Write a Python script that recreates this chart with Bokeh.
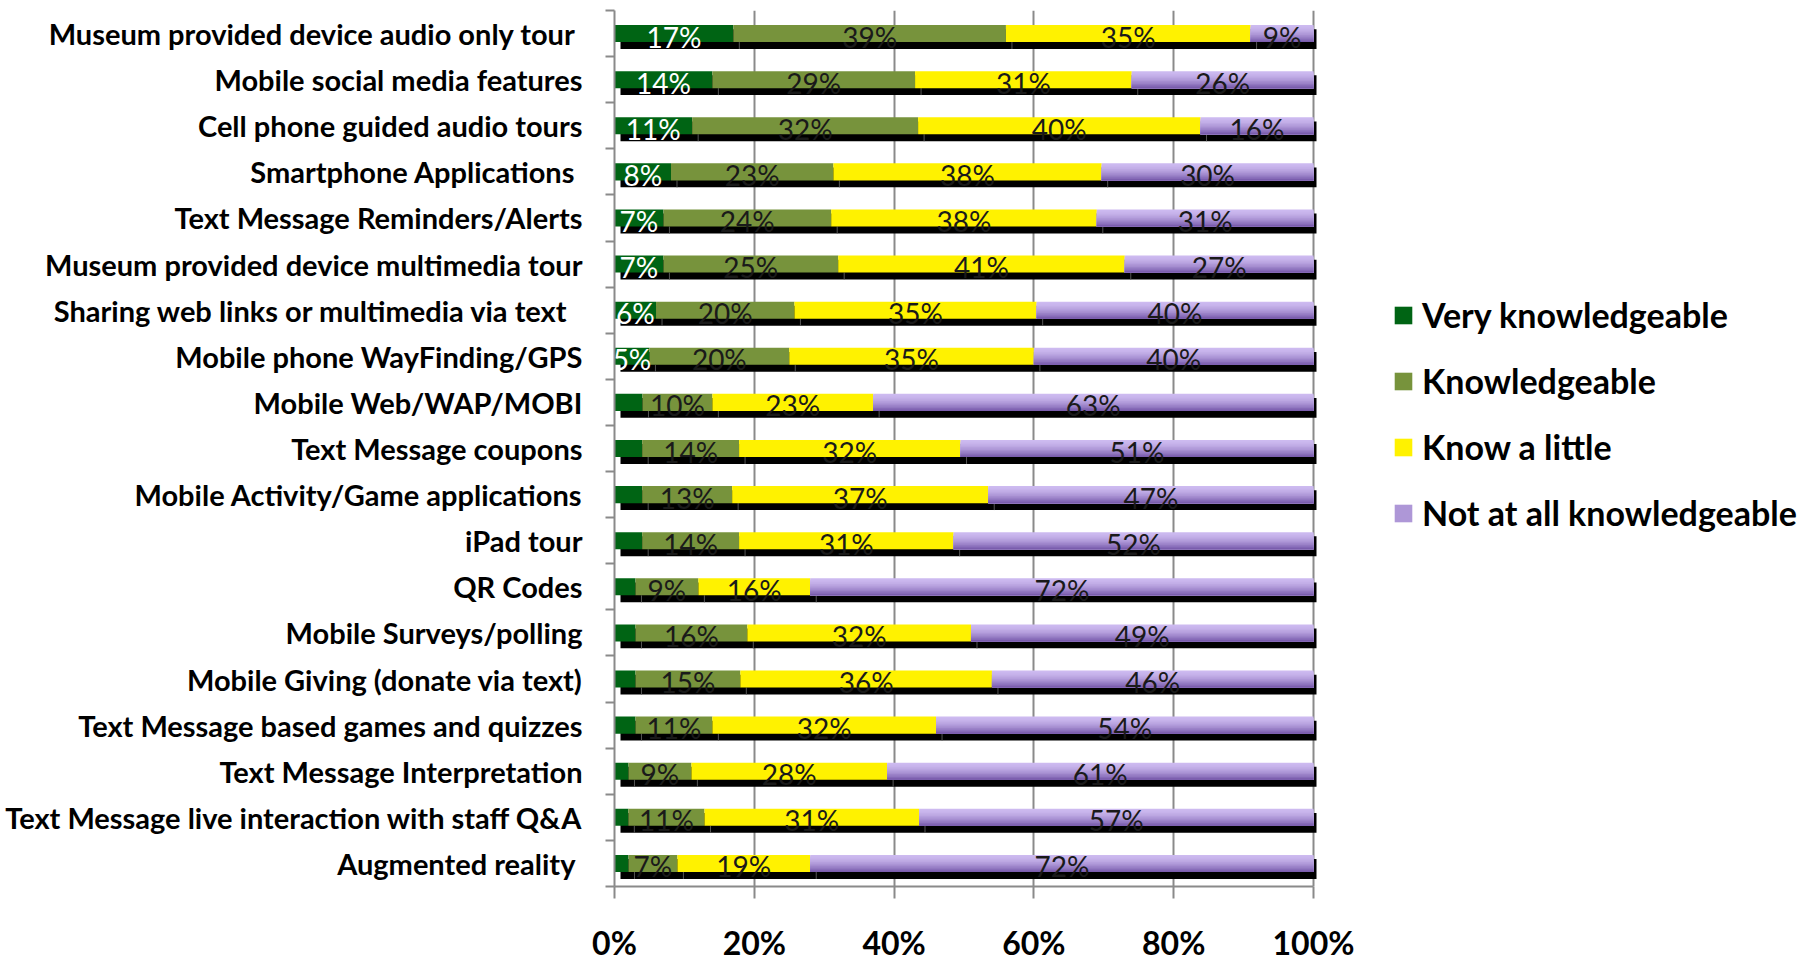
import numpy as np
from bokeh.plotting import figure
from bokeh.models import ColumnDataSource, Range1d, FixedTicker, Legend, LegendItem
from bokeh.embed import file_html
from bokeh.resources import INLINE
from bokeh.core.properties import value

# Survey: familiarity with mobile technologies (top row first)
categories = [
    "Museum provided device audio only tour ",
    "Mobile social media features",
    "Cell phone guided audio tours",
    "Smartphone Applications ",
    "Text Message Reminders/Alerts",
    "Museum provided device multimedia tour",
    "Sharing  web links or multimedia via text ",
    "Mobile phone WayFinding/GPS",
    "Mobile Web/WAP/MOBI",
    "Text Message coupons",
    "Mobile Activity/Game applications",
    "iPad tour",
    "QR Codes",
    "Mobile Surveys/polling",
    "Mobile Giving (donate via text)",
    "Text Message based games and quizzes",
    "Text Message Interpretation",
    "Text Message live interaction with staff Q&A",
    "Augmented reality ",
]
very_knowledgeable = [17, 14, 11, 8, 7, 7, 6, 5, 4, 4, 4, 4, 3, 3, 3, 3, 2, 2, 2]
knowledgeable = [39, 29, 32, 23, 24, 25, 20, 20, 10, 14, 13, 14, 9, 16, 15, 11, 9, 11, 7]
know_a_little = [35, 31, 40, 38, 38, 41, 35, 35, 23, 32, 37, 31, 16, 32, 36, 32, 28, 31, 19]
not_at_all = [9, 26, 16, 30, 31, 27, 40, 40, 63, 51, 47, 52, 72, 49, 46, 54, 61, 57, 72]
# only the first rows carry a label on the dark green segment
labelled_very_rows = 8

series_names = ["Very knowledgeable", "Knowledgeable", "Know a little", "Not at all knowledgeable"]
tick_values = [0, 20, 40, 60, 80, 100]
tick_labels = ["0%", "20%", "40%", "60%", "80%", "100%"]

FONT = "Lato"
GREEN = "#006414"
OLIVE = "#77933c"
YELLOW = "#fff200"
PURPLE_TOP = np.array([205, 186, 240])
PURPLE_BOTTOM = np.array([116, 86, 168])
AXIS_GRAY = "#8a8a8a"

n = len(categories)
rows = np.arange(n)
vals = np.array([very_knowledgeable, knowledgeable, know_a_little, not_at_all], dtype=float)
totals = vals.sum(axis=0)
shares = vals / totals * 100.0
right_edges = np.cumsum(shares, axis=0)
left_edges = right_edges - shares

# frame spans to the right edge so the legend can live inside it;
# 0% sits at 614 px and 100% at 1313 px
W, H = 1816, 964
FRAME_LEFT = 614
FRAME_TOP = 10
px_per_unit = 699 / 100.0
x_end = (W - FRAME_LEFT) / px_per_unit

p = figure(width=W, height=H, output_backend="svg", toolbar_location=None,
           x_range=Range1d(0, x_end), y_range=Range1d(n - 0.5, -0.5),
           min_border_left=FRAME_LEFT, min_border_right=0,
           min_border_top=FRAME_TOP, min_border_bottom=74)
p.outline_line_color = None
p.background_fill_color = "white"
p.border_fill_color = "white"

BAR_H = 0.37
SHADOW_H = 0.43
SHADOW_DY = 0.12
SHADOW_DX_L = 6 / px_per_unit
SHADOW_DX_R = 3 / px_per_unit

# depth face under each bar
p.hbar(y=rows + SHADOW_DY, left=SHADOW_DX_L, right=100 + SHADOW_DX_R, height=SHADOW_H,
       fill_color="black", line_color=None)
# segment seams on the depth face
for k in range(3):
    xs = right_edges[k] + SHADOW_DX_L
    p.segment(x0=xs, x1=xs, y0=rows + BAR_H / 2, y1=rows + SHADOW_DY + SHADOW_H / 2,
              line_color="#555555", line_width=1)

renderers = []
for k, color in enumerate([GREEN, OLIVE, YELLOW]):
    r = p.hbar(y=rows, left=left_edges[k], right=right_edges[k], height=BAR_H,
               fill_color=color, line_color=None)
    renderers.append(r)

# purple segment shaded from light top to darker bottom; each band runs down to the
# bar's lower edge so the next one simply paints over it (no seams)
n_bands = 12
band_h = BAR_H / n_bands
purple_bands = []
for b in range(n_bands):
    t = (b + 0.5) / n_bands
    c = PURPLE_TOP + (PURPLE_BOTTOM - PURPLE_TOP) * t ** 1.7
    col = "#%02x%02x%02x" % tuple(int(round(v)) for v in c)
    top = rows - BAR_H / 2 + band_h * b
    bottom = rows + BAR_H / 2
    r = p.hbar(y=(top + bottom) / 2, left=left_edges[3], right=right_edges[3],
               height=bottom - top, fill_color=col, line_color=None)
    purple_bands.append(r)
renderers.append(purple_bands[n_bands // 2])

# value labels
lab_x, lab_y, lab_t, lab_c = [], [], [], []
for k in range(4):
    for i in range(n):
        if k == 0 and i >= labelled_very_rows:
            continue
        lab_x.append((left_edges[k][i] + right_edges[k][i]) / 2)
        lab_y.append(i)
        lab_t.append("%d%%" % int(vals[k][i]))
        lab_c.append("white" if k == 0 else "#1a1a1a")
labels = ColumnDataSource(dict(x=lab_x, y=lab_y, t=lab_t, c=lab_c))
p.text(x="x", y="y", text="t", source=labels, text_color="c",
       text_font=value(FONT), text_font_size="28px",
       text_align="center", text_baseline="middle", y_offset=3)

# x axis, limited to the 0-100% span
xa = p.xaxis[0]
xa.ticker = FixedTicker(ticks=tick_values, minor_ticks=[])
xa.major_label_overrides = {v: s for v, s in zip(tick_values, tick_labels)}
xa.bounds = (0, 100)
xa.axis_line_color = AXIS_GRAY
xa.axis_line_width = 2
xa.major_tick_line_color = AXIS_GRAY
xa.major_tick_line_width = 2
xa.major_tick_out = 12
xa.major_tick_in = 0
xa.minor_tick_line_color = None
xa.major_label_text_font = FONT
xa.major_label_text_font_style = "bold"
xa.major_label_text_font_size = "32px"
xa.major_label_text_color = "black"
xa.major_label_standoff = 24

# y axis: labels at row centres, ticks between rows
ya = p.yaxis[0]
ya.ticker = FixedTicker(ticks=list(range(n)), minor_ticks=[i - 0.5 for i in range(n + 1)])
ya.major_label_overrides = {i: c for i, c in enumerate(categories)}
ya.axis_line_color = AXIS_GRAY
ya.axis_line_width = 2
ya.major_tick_line_color = None
ya.major_tick_out = 0
ya.major_tick_in = 0
ya.minor_tick_line_color = AXIS_GRAY
ya.minor_tick_line_width = 2
ya.minor_tick_out = 9
ya.minor_tick_in = 0
ya.major_label_text_font = FONT
ya.major_label_text_font_style = "bold"
ya.major_label_text_font_size = "29px"
ya.major_label_text_color = "black"
ya.major_label_standoff = 23

p.xgrid.ticker = FixedTicker(ticks=tick_values[1:])
p.xgrid.grid_line_color = AXIS_GRAY
p.xgrid.grid_line_width = 2
p.ygrid.grid_line_color = None

# legend to the right of the bars (inside the wide frame); location is measured
# from the frame's lower-left corner
LEG_PAD = 10
LEG_ITEM_H = 41
LEG_SPACING = 25
leg_height = 2 * LEG_PAD + 4 * LEG_ITEM_H + 3 * LEG_SPACING
leg_left_offset = 778
leg_bottom_offset = 353
legend = Legend(items=[LegendItem(label=nm, renderers=[r]) for nm, r in zip(series_names, renderers)],
                location=(leg_left_offset, leg_bottom_offset))
legend.label_text_font = FONT
legend.label_text_font_style = "bold"
legend.label_text_font_size = "34px"
legend.label_text_color = "black"
legend.glyph_width = 22
legend.glyph_height = 22
legend.label_height = LEG_ITEM_H
legend.label_standoff = 8
legend.spacing = LEG_SPACING
legend.padding = LEG_PAD
legend.margin = 0
legend.border_line_color = None
legend.background_fill_alpha = 0
p.add_layout(legend, "center")

open("out.html", "w").write(file_html(p, INLINE))
